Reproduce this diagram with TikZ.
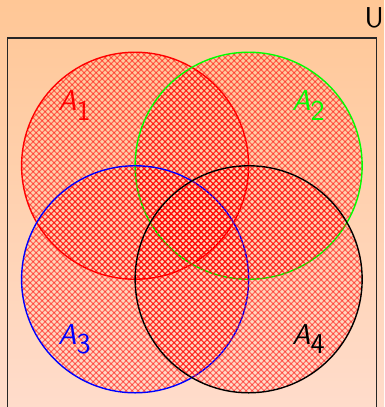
\documentclass[tikz,border=0pt]{standalone}
\usepackage{tikz}
\usetikzlibrary{calc}
\definecolor{bgtop}{HTML}{FFC796}
\definecolor{bgbottom}{HTML}{FFDCCB}

\begin{document}
\begin{tikzpicture}[
  hatchline/.style={red,opacity=0.5,line width=0.5pt},
  % crosshatch clipped to the set, on one lattice for all sets
  hatched/.style 2 args={path picture={
    \pgfmathtruncatemacro{\mne}{round((#2-#1)/0.1057)}
    \pgfmathtruncatemacro{\mnw}{round((#1+#2)/0.1057)}
    \coordinate (mid) at (path picture bounding box.center);
    \foreach \k in {-28,...,28}{
      \pgfmathsetmacro{\dne}{(\mne+\k)*0.1057-(#2-#1)}
      \pgfmathsetmacro{\dnw}{(\mnw+\k)*0.1057-(#1+#2)}
      \draw[hatchline] ($(mid)+({-\dne/2-2.1},{\dne/2-2.1})$) -- ++(4.2,4.2);
      \draw[hatchline] ($(mid)+({\dnw/2+2.1},{\dnw/2-2.1})$) -- ++(-4.2,4.2);
    }}},
  set/.style={circle,minimum size=4cm,inner sep=0pt,line width=0.7pt},
  lbl/.style={font=\Large\sffamily}
]
\useasboundingbox (-2.38,-4.25) rectangle (4.3848,2.92);
\shade[top color=bgtop,bottom color=bgbottom] (-2.38,-4.25) rectangle (4.3848,2.92);
% universe
\draw[semithick,black!85] (-2.25,-4.4) rectangle (4.25,2.25);
\node[lbl] (ulabel) at (4.21,2.61) {U};
% the four sets
\node[set,hatched={0}{0},draw=red]    (A1) at (0,0) {};
\node[set,hatched={2}{0},draw=green]  (A2) at (2,0) {};
\node[set,hatched={0}{-2},draw=blue]  (A3) at (0,-2) {};
\node[set,hatched={2}{-2},draw=black] (A4) at (2,-2) {};
\node[lbl,text=red]   (lab1) at ($(A1.center)+(135:1.5)$) {$\textsf{\itshape A}_{\textsf{1}}$};
\node[lbl,text=green] (lab2) at ($(A2.center)+(45:1.5)$)  {$\textsf{\itshape A}_{\textsf{2}}$};
\node[lbl,text=blue]  (lab3) at ($(A3.center)+(225:1.5)$) {$\textsf{\itshape A}_{\textsf{3}}$};
\node[lbl,text=black] (lab4) at ($(A4.center)+(-45:1.5)$) {$\textsf{\itshape A}_{\textsf{4}}$};
\end{tikzpicture}
\end{document}
